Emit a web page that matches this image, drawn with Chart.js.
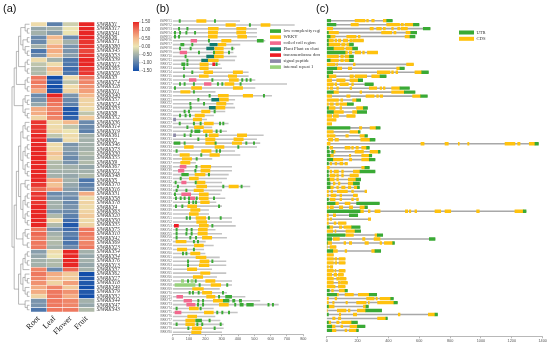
<!DOCTYPE html>
<html>
<head>
<meta charset="utf-8">
<script src="https://cdn.jsdelivr.net/npm/chart.js@4.4.1/dist/chart.umd.min.js"></script>
<style>
  html, body { margin: 0; padding: 0; background: #fff; }
  #page { position: relative; width: 550px; height: 344px; overflow: hidden; }
  canvas { position: absolute; top: 0; }
  .tag { position: absolute; top: 2px; font: 11px "Liberation Sans", Arial, sans-serif; color: #111; }
</style>
</head>
<body>
<div id="page">
  <canvas id="heatChart" width="160" height="344" style="left:0"></canvas>
  <canvas id="domainChart" width="160" height="344" style="left:160px"></canvas>
  <canvas id="structChart" width="230" height="344" style="left:320px"></canvas>
  <div class="tag" style="left:3px">(a)</div>
  <div class="tag" style="left:156px">(b)</div>
  <div class="tag" style="left:316px">(c)</div>
</div>
<script>
// ---- (a) expression heatmap ----
const tissues = ["Root", "Leaf", "Flower", "Fruit"];
const heatGenes = ["SlWRKY1","SlWRKY17","SlWRKY41","SlWRKY6","SlWRKY71","SlWRKY80","SlWRKY45","SlWRKY53","SlWRKY39","SlWRKY12","SlWRKY65","SlWRKY26","SlWRKY3","SlWRKY74","SlWRKY28","SlWRKY11","SlWRKY40","SlWRKY57","SlWRKY24","SlWRKY33","SlWRKY8","SlWRKY52","SlWRKY36","SlWRKY14","SlWRKY19","SlWRKY61","SlWRKY2","SlWRKY46","SlWRKY73","SlWRKY30","SlWRKY55","SlWRKY9","SlWRKY67","SlWRKY22","SlWRKY48","SlWRKY5","SlWRKY70","SlWRKY16","SlWRKY31","SlWRKY58","SlWRKY78","SlWRKY4","SlWRKY63","SlWRKY20","SlWRKY50","SlWRKY35","SlWRKY75","SlWRKY10","SlWRKY42","SlWRKY69","SlWRKY23","SlWRKY54","SlWRKY34","SlWRKY76","SlWRKY13","SlWRKY37","SlWRKY62","SlWRKY27","SlWRKY18","SlWRKY49","SlWRKY79","SlWRKY32","SlWRKY44","SlWRKY47","SlWRKY43"];
const rootExpr = [0.1,-0.6,-0.5,-0.9,-0.9,-0.5,-1.1,-0.9,0.1,-0.3,-0.4,-0.4, 1.0,1.0,0.9,0.6, -0.9,-0.8,-0.6,0.6,0.6,0.2, 1.4,1.4,1.4,1.5,1.5,1.5,1.5,1.5,1.5,1.5,1.5,1.5,1.5,1.5,1.4,1.1,1.4,1.4,1.4,1.5,1.5,1.5,1.5,1.5, 1.0,1.1,1.0,1.0,1.0, -0.7,-0.6,-0.5,-0.5,0.9, 1.0,0.9,0.8,0.6,0.6,0.2, -0.8,-0.8,-1.1];
const leafExpr = [-1.0,-0.5,-0.7,0.5,0.2,0.6,0.6,0.4,-0.5,0.1,0.5,0.2, -1.5,-1.4,-1.5,-1.4, 1.5,1.1,1.0,0.9,1.0,0.9, 0.1,0.1,0.2,-0.3,-0.9,0.1,0.1,0.4,0.2,-0.4,-0.4,-0.5,-0.5,0.6,0.4,0.7,-0.9,-0.8,-0.5,-0.5,-0.8,-0.4,0.1,-0.4, -0.8,-0.5,-0.4,-0.4,-0.5, 0.1,0.0,-0.4,-0.4,-0.9, 0.6,0.5,0.2,0.9,1.0,1.0, 1.0,1.0,1.0];
const flowerExpr = [-0.2,0.0,0.0,-0.9,-0.5,-0.8,-0.8,-0.7,-1.1,-1.1,-1.2,-1.1, 0.1,-0.3,0.1,0.2, -0.8,-0.9,-1.0,-1.4,-1.4,-1.3, 0.5,-0.3,0.0,0.1,0.1,-0.8,-0.7,-0.8,-0.9,-0.8,-0.5,-0.5,-0.6,-0.5,-0.6,-0.7,-0.8,-0.9,-0.9,-0.8,-0.9,-1.0,-1.2,-1.4, -1.2,-1.0,-1.1,-1.1,-0.9, 1.5,1.5,1.5,1.5,1.1, 0.3,0.3,0.7,0.3,0.8,0.6, 0.9,0.9,1.0];
const fruitExpr = [1.5,1.5,1.5,1.5,1.4,1.4,1.3,1.4,1.5,1.5,1.4,1.4, 1.0,0.9,0.8,0.7, 0.5,0.2,0.2,0.1,-0.3,0.3, -0.9,-0.9,-1.0,-0.5,-0.5,-0.5,-0.5,-0.4,-0.5,-0.4,-0.6,-0.5,-0.4,-1.1,-1.0,-0.9,0.6,0.1,0.2,0.1,0.2,0.3,0.1,0.2, 1.0,1.0,0.9,0.9,1.0, -0.5,-0.6,-0.5,-0.6,-0.5, -1.5,-1.4,-1.4,-1.5,-1.4,-1.5, -0.5,-0.6,-0.4];
const colorTicks = [1.5, 1.0, 0.5, 0.0, -0.5, -1.0, -1.5];
// row clustering (leaf = row index)
const clusterA = [[[0,[1,2]],[[3,4],[5,[6,7]]]],[[8,9],[10,11]]];
const clusterB = [[12,13],[14,15]];
const clusterC = [[16,[17,18]],[19,[20,21]]];
const clusterD = [[[[22,[23,24]],[25,26]],[[[27,28],[29,30]],[[31,32],[33,34]]]],[[35,[36,37]],[[[38,39],[40,41]],[[42,43],[44,45]]]]];
const clusterE = [[46,[47,48]],[49,50]];
const clusterF = [[[51,52],[53,54]],55];
const clusterG = [[56,[57,58]],[59,[60,61]]];
const clusterH = [62,[63,64]];
const heatTree = [[[clusterA, clusterB], clusterC], [[clusterD, clusterE], [[clusterF, clusterG], clusterH]]];

// ---- (b) protein domains ----
const domGenes = ["SlWRKY1","SlWRKY2","SlWRKY3","SlWRKY4","SlWRKY5","SlWRKY6","SlWRKY7","SlWRKY8","SlWRKY9","SlWRKY10","SlWRKY11","SlWRKY12","SlWRKY13","SlWRKY14","SlWRKY15","SlWRKY16","SlWRKY17","SlWRKY18","SlWRKY19","SlWRKY20","SlWRKY21","SlWRKY22","SlWRKY23","SlWRKY24","SlWRKY25","SlWRKY26","SlWRKY27","SlWRKY28","SlWRKY29","SlWRKY30","SlWRKY31","SlWRKY32","SlWRKY33","SlWRKY34","SlWRKY35","SlWRKY36","SlWRKY37","SlWRKY38","SlWRKY39","SlWRKY40","SlWRKY41","SlWRKY42","SlWRKY43","SlWRKY44","SlWRKY45","SlWRKY46","SlWRKY47","SlWRKY48","SlWRKY49","SlWRKY50","SlWRKY51","SlWRKY52","SlWRKY53","SlWRKY54","SlWRKY55","SlWRKY56","SlWRKY57","SlWRKY58","SlWRKY59","SlWRKY60","SlWRKY61","SlWRKY62","SlWRKY63","SlWRKY64","SlWRKY65","SlWRKY66","SlWRKY67","SlWRKY68","SlWRKY69","SlWRKY70","SlWRKY71","SlWRKY72","SlWRKY73","SlWRKY74","SlWRKY75","SlWRKY76","SlWRKY77","SlWRKY78","SlWRKY79","SlWRKY80"];
const proteinLength = [410,745,514,514,514,565,412,380,370,390, 380,290,300,463,463,504,698,504,260,606, 380,370,380,320,250,208,340,240,330,555, 514,534,514,380,412,240,140,361,361,341, 330,300,473,300,290,320,265,300,220,220, 361,361,384,260,300,330,200,249,190,198, 286,326,326,239,326,269,361,361,286,330, 443,534,647,249,396,259,290,310,310,300];
const domainNames = ["low complexity region","WRKY","coiled coil region","Plant Plant zn clust","transmembrane domain","signal peptide","internal repeat 1"];
const domainColors = ["#3aaa35","#ffc20e","#f2688e","#137a6e","#ee1c24","#8e8aa8","#98d27c"];
// [row, start, end]
const lowComplexity = [[1,39,47],[1,255,263],[2,469,477],[3,35,43],[3,86,94],[4,10,18],[4,41,49],[4,80,88],[4,133,141],[5,10,18],[5,35,43],[6,218,226],[6,518,555],[7,49,69],[7,116,124],[8,41,49],[8,106,114],[8,361,369],[9,157,165],[9,249,257],[9,341,349],[10,75,83],[11,86,94],[12,55,75],[12,86,94],[12,265,273],[13,65,73],[14,116,124],[15,65,73],[16,239,247],[16,422,430],[16,449,457],[16,473,481],[17,41,49],[17,69,77],[17,126,134],[17,273,281],[17,300,308],[17,412,420],[18,10,18],[19,126,134],[20,222,230],[20,555,563],[21,153,161],[22,104,112],[22,188,196],[23,106,114],[24,69,77],[24,96,104],[24,253,261],[25,41,49],[25,75,83],[25,102,110],[27,39,47],[27,126,134],[27,167,175],[27,286,294],[27,306,314],[28,86,94],[29,112,120],[29,135,167],[29,265,273],[29,290,298],[30,69,77],[30,106,114],[30,202,210],[31,153,161],[32,8,45],[32,69,77],[32,259,267],[32,447,455],[32,494,502],[33,398,406],[34,20,28],[34,265,273],[34,286,294],[35,171,179],[36,143,151],[38,141,149],[39,135,143],[40,55,96],[40,218,226],[41,45,53],[42,14,22],[42,137,145],[43,28,36],[43,306,314],[43,418,426],[44,20,28],[44,80,88],[45,10,18],[46,16,24],[46,45,53],[46,69,77],[46,96,104],[46,143,151],[46,249,257],[47,96,104],[47,122,130],[47,139,147],[48,16,24],[48,55,63],[48,280,288],[51,82,90],[51,102,110],[51,218,226],[51,290,298],[53,239,247],[54,20,28],[54,82,90],[54,112,120],[55,20,28],[55,80,88],[55,112,120],[56,20,28],[56,104,112],[56,139,147],[57,126,134],[57,151,159],[59,126,134],[60,59,67],[60,80,88],[62,90,98],[62,239,247],[63,90,98],[67,90,98],[67,137,145],[68,161,169],[68,330,338],[70,100,108],[70,120,128],[70,155,163],[70,304,312],[71,280,288],[71,324,361],[72,153,161],[72,182,190],[72,310,345],[72,367,381],[72,408,422],[73,151,159],[73,182,190],[73,379,387],[73,412,432],[73,453,494],[73,583,591],[73,610,618],[74,20,28],[74,167,175],[75,269,277],[75,300,308],[75,341,349],[77,141,177],[77,222,230],[78,20,28],[78,147,155],[78,177,185],[78,290,298],[79,92,100],[79,253,261]];
const wrkyDomain = [[1,147,204],[2,326,384],[2,541,596],[3,218,279],[3,392,449],[4,218,275],[4,392,447],[5,218,273],[5,398,453],[6,300,357],[7,279,326],[8,259,310],[9,259,310],[10,255,310],[11,218,279],[12,167,218],[13,167,218],[14,192,245],[14,371,428],[15,163,218],[15,341,392],[16,347,402],[17,320,375],[18,116,177],[18,371,428],[19,49,106],[20,279,341],[20,432,490],[21,286,341],[22,269,326],[23,265,320],[24,177,228],[25,137,194],[26,126,177],[27,194,249],[28,133,188],[29,188,243],[30,224,279],[30,396,453],[31,202,259],[31,375,432],[32,202,259],[32,365,422],[33,72,126],[33,259,314],[34,177,235],[35,45,102],[35,228,286],[36,59,116],[37,49,106],[38,173,233],[39,173,228],[40,137,198],[41,102,157],[42,147,198],[43,147,208],[43,345,402],[44,131,188],[45,163,218],[46,163,218],[47,171,224],[48,92,147],[49,110,167],[50,102,157],[51,143,202],[52,147,208],[53,163,218],[54,157,212],[55,155,212],[56,182,239],[57,20,82],[58,133,188],[59,29,86],[60,110,167],[61,143,204],[62,167,222],[63,163,222],[64,90,147],[65,171,228],[66,126,184],[67,202,259],[68,235,294],[69,122,188],[70,182,239],[71,208,259],[72,249,306],[73,286,341],[74,102,157],[75,194,249],[76,92,147],[77,80,137],[78,80,133],[79,120,177],[80,116,173]];
const coiledCoil = [[6,112,147],[9,45,86],[16,102,143],[17,194,235],[38,45,82],[39,35,69],[42,55,82],[45,55,110],[46,106,135],[71,25,61],[72,69,116],[73,86,137],[75,14,51]];
const znCluster = [[7,228,273],[8,208,253],[10,208,253],[11,177,218],[21,239,284],[23,224,265]];
const transmembrane = [[12,245,259],[53,10,35]];
const signalPeptide = [[26,5,18],[30,5,18]];
const internalRepeat = [[67,53,67],[67,112,126],[68,14,137]];

// ---- (c) gene structure ----
const geneLength = [425,598,670,583,572,238,173,200,330,173, 173,562,503,659,385,233,302,536,572,652, 220,173,264,259,184,60,32,346,216,264, 313,1372,276,346,292,313,134,276,313,205, 220,212,212,259,199,205,341,264,1292,201, 285,125,216,220,363,702,439,60,350,43, 119,119,39,119,108,125,134,119,134,324, 432,458,270,356,718,393,199,248,205];
const utrParts = [[1,0,26],[1,389,425],[2,0,60],[2,562,598],[3,626,670],[4,0,11],[4,545,583],[5,0,22],[5,540,572],[6,0,11],[7,0,11],[7,148,173],[8,0,43],[8,168,200],[9,0,119],[10,148,173],[11,0,22],[11,148,173],[13,0,65],[13,475,503],[14,0,39],[14,616,659],[15,0,11],[15,346,385],[16,205,233],[17,248,302],[18,475,536],[19,0,43],[19,503,572],[20,609,652],[21,194,220],[22,134,173],[23,0,11],[23,238,264],[24,0,43],[24,199,259],[28,0,151],[28,320,346],[29,205,216],[30,248,264],[31,281,313],[32,1350,1372],[33,0,11],[33,259,276],[34,0,17],[34,32,43],[34,335,346],[35,0,22],[35,276,292],[36,0,39],[36,276,313],[37,0,11],[38,248,276],[39,0,11],[39,216,313],[40,0,11],[41,0,17],[41,190,220],[42,0,22],[42,173,212],[43,0,22],[43,199,212],[46,0,11],[47,0,54],[47,194,341],[48,248,264],[49,0,216],[49,1274,1292],[50,147,201],[53,0,17],[53,162,216],[54,184,220],[55,0,119],[55,328,363],[56,0,32],[56,665,702],[57,0,4],[57,428,439],[59,0,39],[59,313,350],[69,0,17],[69,119,134],[70,0,65],[70,276,324],[71,415,432],[72,436,458],[73,0,11],[73,255,270],[74,253,356],[75,0,11],[75,702,718],[76,384,393],[77,0,11],[77,162,199],[78,0,32],[78,199,248],[79,0,32],[79,194,205]];
const cdsParts = [[1,184,248],[1,259,270],[1,292,308],[1,367,389],[2,158,205],[2,389,472],[2,482,497],[2,508,562],[3,0,39],[3,281,302],[3,324,354],[3,367,380],[3,421,432],[3,460,473],[3,482,523],[4,11,76],[4,356,421],[4,436,449],[4,514,545],[5,22,54],[5,130,190],[5,205,216],[5,508,540],[6,11,43],[6,54,65],[6,76,91],[6,108,136],[6,151,162],[6,168,238],[7,11,86],[7,97,119],[7,130,148],[8,43,112],[8,125,148],[8,151,168],[9,119,134],[9,147,162],[9,184,220],[9,233,244],[9,264,330],[10,0,76],[10,91,108],[10,119,148],[11,22,76],[11,91,108],[11,119,148],[12,0,54],[12,65,70],[12,173,184],[12,518,562],[13,65,97],[13,140,162],[13,454,475],[14,328,410],[14,421,432],[14,449,460],[14,572,616],[15,11,60],[15,151,173],[15,184,259],[15,292,346],[16,0,32],[16,65,119],[16,151,205],[17,0,43],[17,54,65],[17,86,140],[17,162,173],[18,0,11],[18,22,39],[18,65,76],[18,151,162],[18,276,324],[18,346,356],[18,367,378],[18,421,475],[19,43,76],[19,216,227],[19,421,503],[20,0,32],[20,130,151],[20,255,307],[20,324,335],[20,346,363],[20,557,609],[21,0,76],[21,91,104],[21,168,194],[22,0,11],[22,22,43],[22,60,76],[22,86,134],[23,11,54],[23,86,97],[23,194,238],[24,43,108],[24,168,199],[25,0,32],[25,43,76],[25,130,184],[26,0,60],[27,0,32],[28,212,227],[28,281,320],[29,0,43],[29,151,205],[30,0,17],[30,22,54],[30,124,140],[30,216,248],[31,11,39],[31,54,76],[31,221,281],[32,0,22],[32,611,631],[32,767,788],[32,853,859],[32,914,922],[32,1156,1220],[32,1238,1253],[32,1313,1350],[33,22,39],[33,119,151],[33,162,173],[33,190,205],[33,227,259],[34,43,54],[34,184,238],[34,281,335],[35,22,43],[35,147,156],[35,227,276],[36,39,104],[36,147,162],[36,227,276],[37,22,32],[37,54,65],[37,86,104],[37,119,134],[38,0,17],[38,227,248],[39,22,32],[39,48,76],[39,97,108],[39,173,216],[40,22,54],[40,65,76],[40,97,108],[40,151,205],[41,17,48],[41,65,76],[41,140,190],[42,43,54],[42,76,86],[42,140,173],[43,22,43],[43,65,76],[43,97,119],[43,140,156],[43,179,199],[44,0,11],[44,28,39],[44,69,134],[44,162,173],[44,248,259],[45,0,11],[45,28,60],[45,86,97],[45,173,199],[46,22,54],[46,86,97],[46,162,173],[46,194,205],[47,54,76],[47,119,151],[48,0,11],[48,22,43],[48,82,104],[48,147,168],[48,216,248],[49,216,238],[49,270,281],[49,313,346],[49,510,525],[49,536,545],[49,572,583],[49,702,739],[49,767,804],[49,972,989],[49,1220,1274],[50,0,11],[50,43,58],[51,0,11],[51,22,32],[51,270,285],[52,0,11],[52,48,60],[52,76,125],[53,17,39],[53,82,97],[53,112,162],[54,0,39],[54,54,60],[54,125,184],[55,125,173],[55,313,328],[56,43,82],[56,233,248],[56,307,346],[57,4,32],[57,112,123],[57,147,162],[57,248,270],[57,346,356],[57,374,428],[58,0,4],[58,22,60],[59,39,69],[59,119,130],[59,292,313],[60,0,43],[61,0,43],[61,54,65],[61,80,119],[62,0,43],[62,54,65],[62,80,119],[63,0,11],[63,22,39],[64,0,43],[64,54,60],[64,80,119],[65,0,32],[65,48,65],[65,76,108],[66,0,43],[66,65,82],[66,86,125],[67,0,43],[67,76,86],[67,91,134],[68,0,54],[68,76,119],[69,32,43],[69,82,119],[70,65,76],[70,119,173],[70,205,276],[71,0,11],[71,54,65],[71,259,307],[71,320,328],[71,346,415],[72,0,11],[72,39,48],[72,125,134],[72,194,255],[72,270,276],[72,330,436],[73,11,48],[73,238,255],[74,0,4],[74,69,125],[74,140,151],[74,199,253],[75,82,91],[75,173,194],[75,464,475],[75,659,702],[76,39,54],[76,76,91],[76,330,384],[77,11,26],[77,65,80],[77,97,162],[78,32,54],[78,92,104],[78,151,199],[79,32,60],[79,119,130],[79,147,194]];

Chart.defaults.font.family = "'Liberation Sans', Arial, sans-serif";

const colorStops = [[-1.5,[18,78,170]],[-0.8,[122,148,172]],[-0.4,[176,186,170]],[0,[236,228,178]],[0.5,[244,185,140]],[1.0,[238,120,95]],[1.5,[232,38,36]]];
function heatColor(v) {
  if (v <= colorStops[0][0]) return `rgb(${colorStops[0][1].join(",")})`;
  for (let i = 1; i < colorStops.length; i++) {
    const [v1, c1] = colorStops[i];
    const [v0, c0] = colorStops[i - 1];
    if (v <= v1) {
      const t = (v - v0) / (v1 - v0);
      return `rgb(${c0.map((c, k) => Math.round(c + (c1[k] - c) * t)).join(",")})`;
    }
  }
  return `rgb(${colorStops[colorStops.length - 1][1].join(",")})`;
}

// dendrogram + colour key drawn next to the heatmap
const heatExtras = {
  id: "heatExtras",
  afterDraw(chart) {
    const { ctx, chartArea, scales } = chart;
    const depth = (n) => (typeof n === "number" ? 0 : 1 + Math.max(depth(n[0]), depth(n[1])));
    const maxH = depth(heatTree);
    const x0 = chartArea.left - 1.2, x1 = 12;
    const px = (h) => x0 - ((x0 - x1) * h) / maxH;
    ctx.save();
    ctx.strokeStyle = "#8a8a8a";
    ctx.lineWidth = 0.6;
    const walk = (n) => {
      if (typeof n === "number") return { y: scales.y.getPixelForValue(n), h: 0 };
      const a = walk(n[0]), b = walk(n[1]);
      const h = Math.max(a.h, b.h) + 1;
      ctx.beginPath();
      ctx.moveTo(px(a.h), a.y);
      ctx.lineTo(px(h), a.y);
      ctx.lineTo(px(h), b.y);
      ctx.lineTo(px(b.h), b.y);
      ctx.stroke();
      return { y: (a.y + b.y) / 2, h };
    };
    walk(heatTree);

    // colour key
    const top = 22, bottom = 71, left = 133, w = 6;
    const grad = ctx.createLinearGradient(0, top, 0, bottom);
    colorStops.forEach(([v]) => grad.addColorStop((1.5 - v) / 3, heatColor(v)));
    ctx.fillStyle = grad;
    ctx.fillRect(left, top, w, bottom - top);
    ctx.font = "4.5px 'Liberation Sans'";
    ctx.textBaseline = "middle";
    ctx.strokeStyle = "#666";
    ctx.lineWidth = 0.4;
    colorTicks.forEach((v) => {
      const y = top + ((1.5 - v) / 3) * (bottom - top);
      ctx.beginPath();
      ctx.moveTo(left + w, y);
      ctx.lineTo(left + w + 1.5, y);
      ctx.stroke();
      ctx.fillStyle = "#444";
      ctx.fillText(v.toFixed(2), left + w + 2.5, y);
    });
    ctx.restore();
  },
};

// small boxed legend placed inside a panel
const boxLegend = {
  id: "boxLegend",
  afterDraw(chart, args, opts) {
    const ctx = chart.ctx;
    ctx.save();
    ctx.font = `${opts.size}px 'Liberation Serif'`;
    ctx.textBaseline = "middle";
    chart.data.datasets.filter((d) => d.inLegend).forEach((d, i) => {
      const y = opts.y + i * opts.gap;
      ctx.fillStyle = d.backgroundColor;
      ctx.fillRect(opts.x, y, opts.w, opts.h);
      ctx.fillStyle = "#333";
      ctx.fillText(d.label, opts.x + opts.w + 2.5, y + opts.h / 2);
    });
    ctx.restore();
  },
};

const exprCols = [rootExpr, leafExpr, flowerExpr, fruitExpr];
new Chart(document.getElementById("heatChart"), {
  type: "bar",
  data: {
    labels: heatGenes,
    datasets: tissues.map((t, c) => ({
      label: t,
      data: heatGenes.map(() => [c, c + 1]),
      backgroundColor: exprCols[c].map(heatColor),
      borderColor: "#ffffff",
      borderWidth: 0.5,
      borderSkipped: false,
      grouped: false,
      barPercentage: 1,
      categoryPercentage: 1,
    })),
  },
  options: {
    indexAxis: "y",
    responsive: false,
    animation: false,
    events: [],
    layout: { padding: { left: 30.7, top: 22, right: 0, bottom: 0 } },
    plugins: { legend: { display: false }, tooltip: { enabled: false } },
    scales: {
      x: {
        type: "linear", min: 0, max: 4,
        grid: { display: false, drawTicks: false },
        border: { display: false },
        afterBuildTicks: (s) => { s.ticks = tissues.map((t, i) => ({ value: i + 0.5 })); },
        ticks: {
          autoSkip: false, minRotation: 45, maxRotation: 45, padding: 2,
          callback: (v) => tissues[Math.floor(v)],
          font: { family: "'Liberation Serif'", size: 8 }, color: "#222",
        },
        afterFit: (s) => { s.height = 32; },
      },
      y: {
        position: "right",
        grid: { display: false, drawTicks: false },
        border: { display: false },
        ticks: { autoSkip: false, padding: 2, font: { family: "'Liberation Serif'", size: 5.2, style: "italic" }, color: "#333" },
        afterFit: (s) => { s.width = 65.3; },
      },
    },
  },
  plugins: [heatExtras],
});

function segments(rows, labels) {
  return rows.map(([r, s, e]) => ({ y: labels[r - 1], x: [s, e] }));
}
function partSet(label, rows, color, thick) {
  return { label, data: segments(rows, domGenes), backgroundColor: color, barThickness: thick, grouped: false, inLegend: true };
}

const domainRows = [lowComplexity, wrkyDomain, coiledCoil, znCluster, transmembrane, signalPeptide, internalRepeat];
new Chart(document.getElementById("domainChart"), {
  type: "bar",
  data: {
    labels: domGenes,
    datasets: [
      ...domainRows.map((rows, i) => partSet(domainNames[i], rows, domainColors[i], 2.8)),
      { label: "protein", data: proteinLength.map((len, i) => ({ y: domGenes[i], x: [0, len] })), backgroundColor: "#c4c4c4", barThickness: 0.9, grouped: false },
    ],
  },
  options: {
    indexAxis: "y",
    responsive: false,
    animation: false,
    events: [],
    layout: { padding: { left: 0, top: 19, right: 16.7, bottom: 0 } },
    plugins: {
      legend: { display: false }, tooltip: { enabled: false },
      boxLegend: { x: 110, y: 29.3, gap: 6, w: 11, h: 3.6, size: 4.6 },
    },
    scales: {
      x: {
        type: "linear", min: 0, max: 800,
        ticks: { stepSize: 100, maxRotation: 0, padding: 0.5, font: { size: 3.8 }, color: "#555", callback: (v) => String(v) },
        grid: { drawOnChartArea: false, tickLength: 2, color: "#888", lineWidth: 0.6 },
        border: { color: "#888", width: 0.6 },
        afterFit: (s) => { s.height = 9.8; },
      },
      y: {
        grid: { display: false, drawTicks: false },
        border: { display: false },
        ticks: { autoSkip: false, padding: 1, font: { size: 2.8 }, color: "#666" },
        afterFit: (s) => { s.width = 12.7; },
      },
    },
  },
  plugins: [boxLegend],
});

new Chart(document.getElementById("structChart"), {
  type: "bar",
  data: {
    labels: domGenes,
    datasets: [
      partSet("UTR", utrParts, "#3aaa35", 2.7),
      partSet("CDS", cdsParts, "#ffc20e", 2.7),
      { label: "intron", data: geneLength.map((len, i) => ({ y: domGenes[i], x: [0, len] })), backgroundColor: "#a8a8a8", barThickness: 0.9, grouped: false },
    ],
  },
  options: {
    indexAxis: "y",
    responsive: false,
    animation: false,
    events: [],
    layout: { padding: { left: 6.7, top: 18.7, right: 7.3, bottom: 0 } },
    plugins: {
      legend: { display: false }, tooltip: { enabled: false },
      boxLegend: { x: 139, y: 30.5, gap: 6.3, w: 15, h: 4, size: 4.6 },
    },
    scales: {
      x: {
        type: "linear", min: 0, max: 1400,
        ticks: { stepSize: 200, maxRotation: 0, padding: 0.5, font: { size: 3.8 }, color: "#555", callback: (v) => String(v) },
        grid: { drawOnChartArea: false, tickLength: 2, color: "#888", lineWidth: 0.6 },
        border: { color: "#888", width: 0.6 },
        afterFit: (s) => { s.height = 7.7; },
      },
      y: { display: false },
    },
  },
  plugins: [boxLegend],
});
</script>
</body>
</html>
